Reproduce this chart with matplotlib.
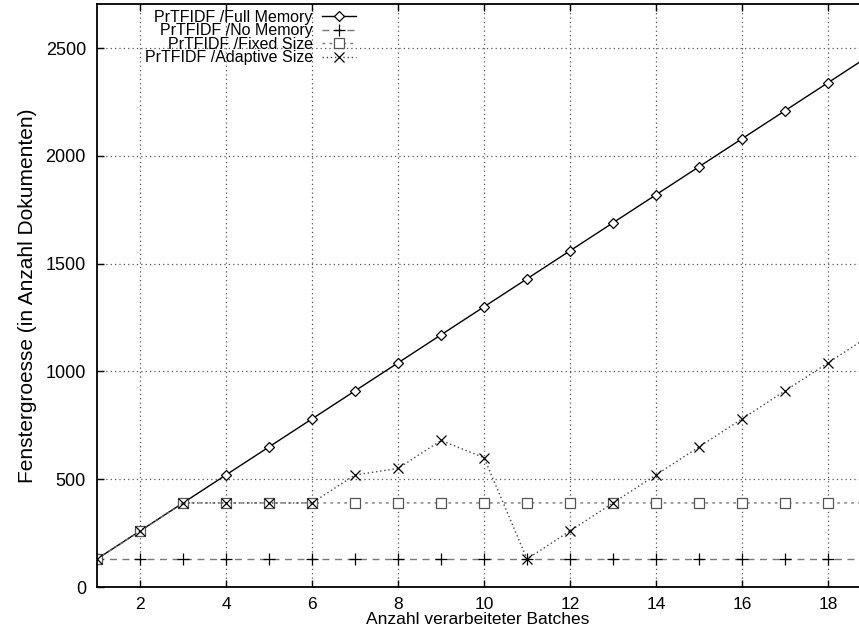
import matplotlib
matplotlib.use("Agg")
import matplotlib.pyplot as plt

plt.rcParams['font.family'] = ['Liberation Sans', 'DejaVu Sans']

# Daten: Fenstergroesse je Batch
batches = list(range(1, 20))
full_memory = [130 * b for b in batches]
no_memory = [130] * len(batches)
fixed_size = [130, 260, 390] + [390] * (len(batches) - 3)
adaptive_size = [130, 260, 390, 390, 390, 390, 520, 550, 680, 600,
                 130, 260, 390, 520, 650, 780, 910, 1040, 1170]

labels = ["PrTFIDF /Full Memory", "PrTFIDF /No Memory",
          "PrTFIDF /Fixed Size", "PrTFIDF /Adaptive Size"]
xticks = list(range(2, 19, 2))
yticks = list(range(0, 2501, 500))

fig = plt.figure(figsize=(8.59, 6.34), dpi=100)
ax = fig.add_axes([97 / 859, 47 / 634, 1 - 97 / 859, (587 - 4) / 634])

ax.plot(batches, full_memory, color='black', lw=1.0, marker='D', ms=5,
        mfc='white', mec='black', mew=0.9, label=labels[0])
ax.plot(batches, no_memory, color='#777777', lw=1.0, ls=(0, (5, 4)),
        marker='+', ms=8, mec='black', mew=0.9, label=labels[1])
ax.plot(batches, fixed_size, color='#777777', lw=1.0, ls=(0, (2, 3)),
        marker='s', ms=7, mfc='white', mec='#555555', mew=0.9, label=labels[2])
ax.plot(batches, adaptive_size, color='#444444', lw=1.0, ls=(0, (1, 2)),
        marker='x', ms=7, mec='black', mew=0.9, label=labels[3])

ax.set_xlim(1, 18.72)
ax.set_ylim(0, 2705)
ax.set_xticks(xticks)
ax.set_yticks(yticks)
ax.tick_params(direction='in', length=5, width=1, top=True, right=False,
               labelsize=13, pad=8)
ax.tick_params(axis='x', labelsize=12.5, pad=7)
ax.grid(True, color='#555555', ls=(0, (1, 2.5)), lw=0.9)
ax.spines['right'].set_visible(False)
for s in ['left', 'top', 'bottom']:
    ax.spines[s].set_linewidth(1.3)

ax.set_xlabel('Anzahl verarbeiteter Batches', fontsize=12.5, labelpad=0)
ax.set_ylabel('Fenstergroesse (in Anzahl Dokumenten)', fontsize=15, labelpad=6)

ax.legend(loc='upper right', bbox_to_anchor=(356 / 859, 1 - 10 / 634),
          bbox_transform=fig.transFigure, markerfirst=False, frameon=False,
          fontsize=11.5, handlelength=2.1, handletextpad=0.6,
          labelspacing=-0.1, borderpad=0, borderaxespad=0)

fig.savefig('out.png', dpi=100)
